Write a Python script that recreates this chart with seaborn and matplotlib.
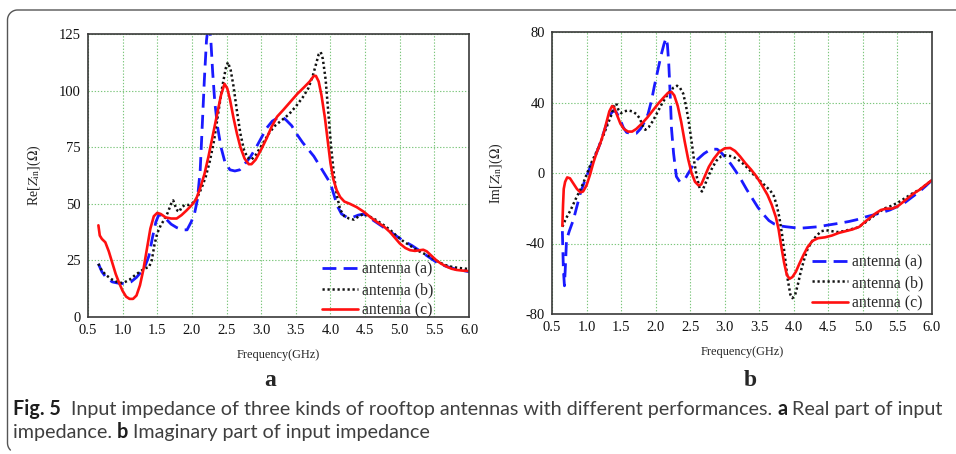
import matplotlib
matplotlib.use("Agg")
import matplotlib.pyplot as plt
import seaborn as sns
import numpy as np
from matplotlib.lines import Line2D

# ---------------- data ----------------
labels = ["antenna (a)", "antenna (b)", "antenna (c)"]

# Real part, antenna (a)
re_a_f = [0.65, 0.70, 0.76, 0.85, 0.96, 1.05, 1.12, 1.20, 1.27, 1.33, 1.38, 1.43, 1.48, 1.52, 1.56,
          1.62, 1.70, 1.78, 1.86, 1.93, 1.99, 2.04, 2.08, 2.12, 2.15, 2.18, 2.21, 2.24, 2.27, 2.30,
          2.33, 2.37, 2.42, 2.48, 2.55, 2.62, 2.69, 2.76, 2.84, 2.92, 3.00, 3.08, 3.16, 3.24, 3.30,
          3.36, 3.44, 3.52, 3.60, 3.68, 3.76, 3.84, 3.92, 4.00, 4.05, 4.10, 4.16, 4.24, 4.32, 4.40,
          4.48, 4.58, 4.70, 4.82, 4.94, 5.06, 5.18, 5.30, 5.42, 5.54, 5.66, 5.80, 6.00]
re_a = [23.5, 20, 17.5, 15.5, 14.8, 14.8, 15.5, 17.5, 20, 23, 27, 35, 42, 45, 45,
        43.5, 41, 39.5, 38.5, 38.5, 42, 46, 52, 65, 85, 105, 122, 130, 124, 108,
        95, 84, 75, 68, 65, 64.5, 65, 67.5, 70.5, 74.5, 79, 83.5, 86.5, 88, 88.5,
        87, 84.5, 80.5, 77, 74, 71, 67, 63, 59, 54, 49, 45.5, 44, 44, 45,
        45.5, 43.5, 41, 38.5, 36, 33.5, 31.5, 29, 26.5, 24, 22.5, 21.2, 20]

# Real part, antenna (b)
re_b_f = [0.65, 0.70, 0.76, 0.85, 0.95, 1.02, 1.10, 1.18, 1.25, 1.32, 1.38, 1.42, 1.46, 1.50, 1.55,
          1.60, 1.65, 1.70, 1.73, 1.76, 1.79, 1.82, 1.85, 1.90, 1.96, 2.02, 2.08, 2.14, 2.20, 2.26,
          2.32, 2.38, 2.44, 2.49, 2.52, 2.56, 2.60, 2.65, 2.70, 2.75, 2.80, 2.86, 2.92, 2.98, 3.05,
          3.12, 3.20, 3.30, 3.40, 3.50, 3.60, 3.68, 3.74, 3.79, 3.83, 3.86, 3.89, 3.93, 3.97, 4.01,
          4.05, 4.09, 4.14, 4.20, 4.27, 4.34, 4.41, 4.48, 4.56, 4.65, 4.75, 4.86, 4.95, 5.05, 5.15,
          5.25, 5.35, 5.45, 5.55, 5.65, 5.77, 5.90, 6.00]
re_b = [23.5, 20.5, 18.5, 16.5, 15, 15.2, 16.5, 18.5, 20, 21.5, 22, 25, 32, 37, 40.5,
        43, 46, 50, 51.5, 49, 47, 46.5, 48.5, 49.5, 49.5, 50.5, 53, 57, 62, 69,
        78, 90, 102, 110, 112.5, 109, 102, 91, 81, 74, 70.5, 69.5, 71.5, 74.5, 78,
        81.5, 84.5, 87, 89.5, 93, 97, 101, 106, 111.5, 116, 117, 114, 105, 90, 75,
        63, 54, 47.5, 44.5, 43.5, 43, 44.5, 45.5, 44.5, 43, 41, 38.5, 36, 33.5, 31.5,
        29.5, 28, 26.5, 24.5, 23, 22, 21.5, 21.2]

# Real part, antenna (c)
re_c_f = [0.65, 0.67, 0.70, 0.75, 0.80, 0.85, 0.90, 0.95, 1.00, 1.05, 1.10, 1.15, 1.20, 1.25, 1.30,
          1.35, 1.40, 1.45, 1.50, 1.55, 1.62, 1.70, 1.78, 1.85, 1.92, 2.00, 2.06, 2.12, 2.18, 2.24,
          2.30, 2.36, 2.42, 2.47, 2.51, 2.55, 2.60, 2.65, 2.70, 2.76, 2.82, 2.86, 2.92, 3.00, 3.08,
          3.15, 3.23, 3.32, 3.42, 3.52, 3.62, 3.70, 3.76, 3.79, 3.83, 3.87, 3.92, 3.96, 4.00, 4.04,
          4.09, 4.14, 4.20, 4.28, 4.38, 4.48, 4.58, 4.67, 4.77, 4.86, 4.93, 5.00, 5.08, 5.15, 5.22,
          5.29, 5.34, 5.39, 5.46, 5.53, 5.60, 5.68, 5.75, 5.82, 5.90, 6.00]
re_c = [40.5, 36, 34.5, 33, 29, 24, 19, 15, 11.5, 9, 8, 8, 9.5, 14, 21,
        30, 39, 44.5, 46, 45.5, 44, 43.5, 43.5, 45, 47, 49.5, 52, 57, 63, 71,
        80, 89, 98, 103, 101, 96, 88, 81, 75, 70, 67.5, 67.5, 69.5, 74, 79,
        84, 88.5, 91.5, 95, 98.5, 101.5, 104, 106.5, 106.5, 104, 98, 88, 78, 68, 61,
        56, 53, 51, 50, 48.5, 46.5, 44, 42, 40, 37.5, 35, 32.5, 30.5, 29.5, 29.2,
        29.5, 29.7, 29, 27, 25, 23.5, 22.2, 21.3, 20.8, 20.5, 20.3]

# Imaginary part, antenna (a)
im_a_f = [0.65, 0.665, 0.68, 0.695, 0.71, 0.75, 0.81, 0.86, 0.91, 0.96, 1.00, 1.06, 1.12, 1.18, 1.24,
          1.30, 1.35, 1.39, 1.43, 1.48, 1.53, 1.58, 1.65, 1.72, 1.78, 1.84, 1.89, 1.94, 1.98, 2.03,
          2.08, 2.12, 2.15, 2.17, 2.19, 2.21, 2.23, 2.26, 2.30, 2.35, 2.43, 2.52, 2.60, 2.70, 2.80,
          2.89, 2.95, 3.02, 3.09, 3.16, 3.24, 3.32, 3.40, 3.48, 3.56, 3.64, 3.72, 3.80, 3.89, 4.00,
          4.10, 4.20, 4.35, 4.50, 4.66, 4.80, 4.91, 5.03, 5.15, 5.27, 5.39, 5.50, 5.60, 5.70, 5.82,
          5.92, 6.00]
im_a = [-33, -55, -64, -52, -38, -33, -26.5, -19, -11.5, -6, -2, 4, 9, 15, 22,
        29, 33.5, 35.5, 34.5, 31, 26, 23, 22.5, 22.5, 25, 29, 33.5, 41, 49, 58,
        67, 73, 76.5, 73, 62, 45, 25, 11, -2, -5, -3, 3, 7.5, 11, 13.5,
        13.5, 11.5, 8.5, 5, 1, -4, -9.5, -14.5, -19.5, -23.5, -27, -29, -30, -30.5, -31,
        -31.3, -31, -30.5, -29.5, -28.5, -27.5, -26.5, -25, -23.8, -22.5, -21, -19, -17, -14, -10.5,
        -7, -4]

# Imaginary part, antenna (b)
im_b_f = [0.65, 0.70, 0.77, 0.84, 0.91, 0.96, 1.00, 1.06, 1.12, 1.18, 1.24, 1.30, 1.36, 1.40, 1.43,
          1.46, 1.50, 1.55, 1.60, 1.66, 1.72, 1.77, 1.81, 1.85, 1.90, 1.96, 2.02, 2.08, 2.14, 2.20,
          2.26, 2.31, 2.35, 2.40, 2.44, 2.48, 2.52, 2.56, 2.60, 2.64, 2.67, 2.71, 2.76, 2.82, 2.88,
          2.95, 3.02, 3.10, 3.18, 3.26, 3.34, 3.42, 3.50, 3.58, 3.66, 3.71, 3.75, 3.79, 3.83, 3.87,
          3.91, 3.95, 3.98, 4.02, 4.06, 4.10, 4.15, 4.20, 4.26, 4.33, 4.40, 4.47, 4.55, 4.63, 4.72,
          4.82, 4.92, 5.02, 5.12, 5.22, 5.32, 5.42, 5.52, 5.62, 5.72, 5.82, 5.92, 6.00]
im_b = [-30.5, -26, -21, -15, -9.5, -5, -1, 5, 10, 15, 21, 27, 33, 38, 39.5,
        36, 34, 35, 35.5, 35, 33.5, 31, 27, 24.5, 26, 29.5, 34, 38.5, 42.5, 46,
        48.5, 49.5, 48.5, 45, 38, 29, 18, 6, -3, -9, -10.5, -7, -2, 3, 7,
        9.5, 10, 9.5, 8, 5.5, 2.5, -1, -4, -7, -10, -13, -18, -25, -35, -47,
        -60, -69, -71, -69, -63, -56, -49, -43, -39, -35.5, -33, -32.5, -33, -33.5, -33,
        -32, -31, -28.5, -25.5, -22.5, -20, -18.5, -16.5, -14, -11.5, -9.5, -6.5, -4]

# Imaginary part, antenna (c)
im_c_f = [0.65, 0.66, 0.67, 0.69, 0.72, 0.76, 0.81, 0.86, 0.91, 0.95, 1.00, 1.05, 1.10, 1.15, 1.20,
          1.25, 1.29, 1.33, 1.37, 1.40, 1.44, 1.49, 1.54, 1.60, 1.66, 1.72, 1.80, 1.88, 1.96, 2.04,
          2.12, 2.18, 2.23, 2.27, 2.32, 2.37, 2.42, 2.47, 2.52, 2.57, 2.62, 2.66, 2.71, 2.77, 2.84,
          2.92, 3.00, 3.08, 3.15, 3.22, 3.30, 3.38, 3.46, 3.54, 3.62, 3.68, 3.74, 3.78, 3.82, 3.86,
          3.90, 3.94, 3.98, 4.03, 4.08, 4.14, 4.20, 4.27, 4.35, 4.45, 4.55, 4.65, 4.75, 4.85, 4.95,
          5.02, 5.10, 5.18, 5.26, 5.34, 5.42, 5.50, 5.58, 5.66, 5.74, 5.82, 5.90, 6.00]
im_c = [-30, -18, -9, -5, -2.5, -3, -6, -9, -11, -10.5, -7, -1, 6, 12, 17,
        23, 29, 35, 38, 37, 33, 28, 25, 23.5, 23.5, 25, 28, 31.5, 35.5, 39.5,
        43, 45.5, 46, 44, 38, 29, 18, 8, 0, -5, -7, -6.5, -2, 3.5, 8,
        12, 14, 14.2, 12.5, 9.5, 5.5, 2, -2, -7, -12.5, -18, -25, -32, -42, -51,
        -58, -60, -59, -56, -51.5, -46.5, -42, -38.5, -37, -36.5, -35.5, -34, -33, -32, -30.5,
        -28, -25.5, -23, -21, -20.2, -20.2, -19, -16.5, -14, -11.5, -9.5, -7, -4]

x_ticks = [0.5, 1.0, 1.5, 2.0, 2.5, 3.0, 3.5, 4.0, 4.5, 5.0, 5.5, 6.0]
re_ticks = [0, 25, 50, 75, 100, 125]
im_ticks = [-80, -40, 0, 40, 80]

# ---------------- style ----------------
sns.set_style("white")
plt.rcParams["font.family"] = ["Liberation Serif", "DejaVu Serif"]
plt.rcParams["mathtext.fontset"] = "stix"

W, H = 956, 454
fig = plt.figure(figsize=(W / 100, H / 100), dpi=100)

def px_axes(x0, y0, x1, y1):
    return fig.add_axes([x0 / W, 1 - y1 / H, (x1 - x0) / W, (y1 - y0) / H])

ax_re = px_axes(88, 34, 469, 317)
ax_im = px_axes(552, 32, 932, 314)

series_style = [
    dict(color="#1a1aff", linewidth=2.0, dashes=[5, 2.6], dash_capstyle="butt"),
    dict(color="#111111", linewidth=1.8, dashes=[0.9, 1.1], dash_capstyle="butt"),
    dict(color="#ff1010", linewidth=1.9, linestyle="-"),
]

re_sets = [(re_a_f, re_a), (re_b_f, re_b), (re_c_f, re_c)]
im_sets = [(im_a_f, im_a), (im_b_f, im_b), (im_c_f, im_c)]

grid_color = "#7cc67c"

def style_axes(ax, yticks, ylim, ylabel, legend_anchor):
    ax.set_xlim(0.5, 6.0)
    ax.set_ylim(*ylim)
    ax.set_xticks(x_ticks)
    ax.set_xticklabels([f"{t:.1f}" for t in x_ticks])
    ax.set_yticks(yticks)
    ax.set_yticklabels([str(t) for t in yticks])
    ax.tick_params(length=0, labelsize=10.5, pad=5, labelcolor="#111111")
    ax.grid(True, color=grid_color, linestyle=(0, (1.2, 1.6)), linewidth=0.8)
    ax.set_axisbelow(True)
    for s in ax.spines.values():
        s.set_color("#3a3a3a")
        s.set_linewidth(1.2)
        s.set_visible(True)
    ax.set_xlabel("Frequency(GHz)", fontsize=8.8, labelpad=9)
    ax.set_ylabel(ylabel, fontsize=10)
    ax.legend(loc="center left", bbox_to_anchor=legend_anchor, frameon=False,
              fontsize=11.3, handlelength=2.3, handletextpad=0.25,
              labelspacing=0.28, borderpad=0, borderaxespad=0)

for (f, v), st, lab in zip(re_sets, series_style, labels):
    sns.lineplot(x=f, y=v, ax=ax_re, label=lab, **st)
for (f, v), st, lab in zip(im_sets, series_style, labels):
    sns.lineplot(x=f, y=v, ax=ax_im, label=lab, **st)

style_axes(ax_re, re_ticks, (0, 125), r"Re[$Z_{\mathrm{in}}$]($\Omega$)", (0.614, 0.095))
style_axes(ax_im, im_ticks, (-80, 80), r"Im[$Z_{\mathrm{in}}$]($\Omega$)", (0.684, 0.110))
ax_re.yaxis.set_label_coords(-(88 - 43) / 381, 0.5)
ax_im.yaxis.set_label_coords(-(552 - 505) / 380, 0.5)

# panel letters
fig.text(270 / W, 1 - 381 / H, "a", fontsize=17, fontweight="bold", ha="center", va="center")
fig.text(750 / W, 1 - 381 / H, "b", fontsize=17, fontweight="bold", ha="center", va="center")

# caption with bold run-ins, sized so the first line spans the panel width
cap_family = ["Lato", "DejaVu Sans"]
renderer = fig.canvas.get_renderer()
line1 = [("Fig. 5", "bold"),
         ("  Input impedance of three kinds of rooftop antennas with different performances. ", "normal"),
         ("a", "bold"), (" Real part of input", "normal")]
line2 = [("impedance. ", "normal"), ("b", "bold"),
         (" Imaginary part of input impedance", "normal")]

def rich_line(x_px, y_px, pieces, size, draw=True):
    x = x_px
    made = []
    for text, weight in pieces:
        t = fig.text(x / W, 1 - y_px / H, text, fontsize=size, fontweight=weight,
                     family=cap_family, ha="left", va="baseline",
                     color="#1e1e1e" if weight == "bold" else "#3f3f3f")
        x += t.get_window_extent(renderer).width
        made.append(t)
    if not draw:
        for t in made:
            t.remove()
    return x - x_px

trial = 12.0
width = rich_line(13, 415, line1, trial, draw=False)
cap_size = trial * (940 - 13) / width
rich_line(13, 415, line1, cap_size)
rich_line(13, 438, line2, cap_size)

# rounded panel border, open on the right and bottom
r = 10.0
th = np.linspace(np.pi / 2, np.pi, 20)
corner_top = [(7.5 + r + r * np.cos(t), 10 + r - r * np.sin(t)) for t in th]
th2 = np.linspace(np.pi, 1.25 * np.pi, 10)
corner_bot = [(7.5 + r + r * np.cos(t), 443 - r * np.sin(t)) for t in th2]
border = [(W + 5, 10)] + corner_top + [(7.5, 443)] + corner_bot
bx = [p[0] / W for p in border]
by = [1 - p[1] / H for p in border]
fig.add_artist(Line2D(bx, by, transform=fig.transFigure, color="#555555",
                      linewidth=1.0, clip_on=False))

fig.savefig("out.png", dpi=100)
